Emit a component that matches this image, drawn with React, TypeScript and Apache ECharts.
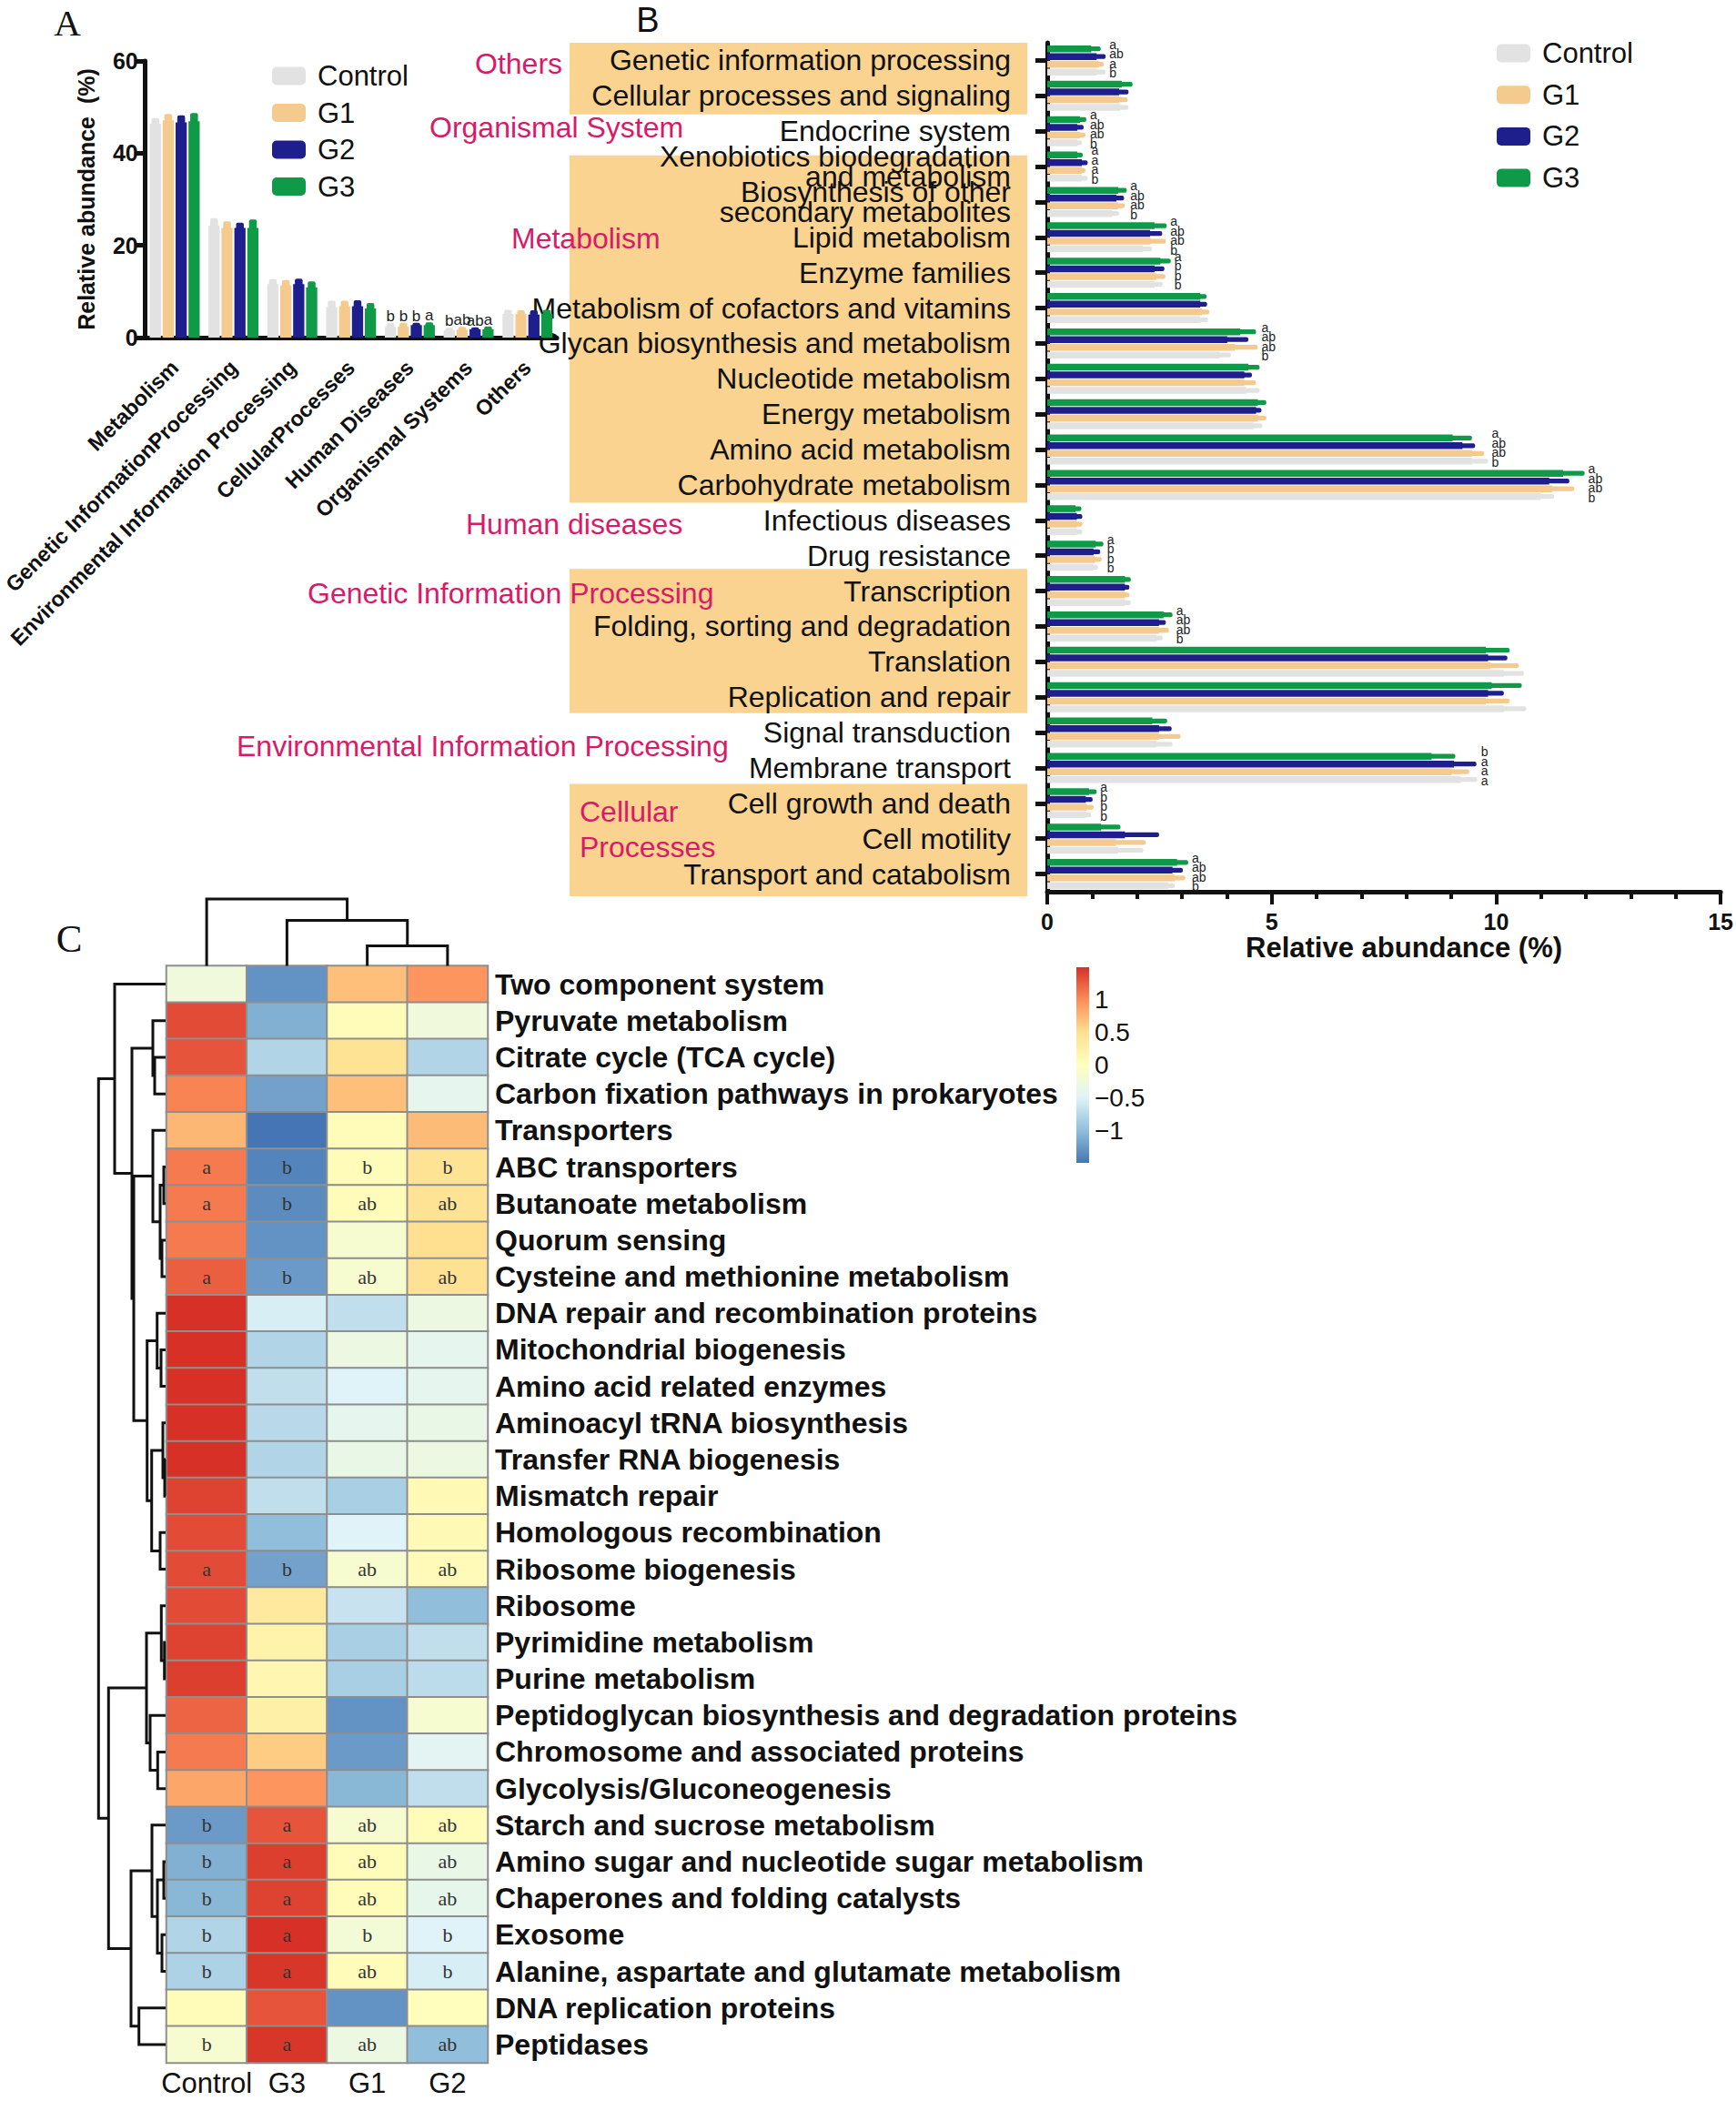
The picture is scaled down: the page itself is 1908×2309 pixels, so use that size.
import React, { useEffect, useRef } from "react";
import * as echarts from "echarts";

const FONT = '"Liberation Sans", Arial, Helvetica, sans-serif';
const SERIF = '"Liberation Serif", "Times New Roman", Times, serif';
const INK = "#111111";
const PINK = "#D81B69";

const groups = ["Control", "G1", "G2", "G3"];
const groupColors = ["#E2E2E2", "#F4CA8F", "#1E1F8C", "#0E9A47"];

// ---------------- Panel A ----------------
const catsA = [
  "Metabolism",
  "Genetic InformationProcessing",
  "Environmental Information Processing",
  "CellularProcesses",
  "Human Diseases",
  "Organismal Systems",
  "Others",
];
const aControl = [46.4, 24.3, 11.6, 6.6, 2.3, 1.6, 5.1];
const aG1 = [47.1, 23.8, 11.3, 6.8, 2.4, 1.7, 5.1];
const aG2 = [46.7, 23.8, 11.6, 6.8, 2.7, 1.8, 5.0];
const aG3 = [46.9, 23.8, 10.9, 6.3, 2.7, 1.8, 5.2];
const aErrControl = [1.2, 1.6, 1.1, 1.4, 0.9, 0.5, 0.9];
const aErrG1 = [1.4, 1.4, 1.2, 1.2, 0.8, 0.6, 0.8];
const aErrG2 = [1.5, 1.1, 1.2, 1.3, 0.5, 0.4, 0.9];
const aErrG3 = [1.8, 1.8, 1.3, 1.2, 0.6, 0.6, 0.8];
const aLetControl = ["", "", "", "", "b", "b", ""];
const aLetG1 = ["", "", "", "", "b", "ab", ""];
const aLetG2 = ["", "", "", "", "b", "ab", ""];
const aLetG3 = ["", "", "", "", "a", "a", ""];

// ---------------- Panel B ----------------
const catsB = [
  "Genetic information processing",
  "Cellular processes and signaling",
  "Endocrine system",
  "Xenobiotics biodegradation\nand metabolism",
  "Biosynthesis of other\nsecondary metabolites",
  "Lipid metabolism",
  "Enzyme families",
  "Metabolism of cofactors and vitamins",
  "Glycan biosynthesis and metabolism",
  "Nucleotide metabolism",
  "Energy metabolism",
  "Amino acid metabolism",
  "Carbohydrate metabolism",
  "Infectious diseases",
  "Drug resistance",
  "Transcription",
  "Folding, sorting and degradation",
  "Translation",
  "Replication and repair",
  "Signal transduction",
  "Membrane transport",
  "Cell growth and death",
  "Cell motility",
  "Transport and catabolism",
];
const bControl = [1.10, 1.62, 0.67, 0.77, 1.45, 2.13, 2.39, 3.41, 3.84, 4.43, 4.60, 9.46, 10.99, 0.66, 1.03, 1.73, 2.44, 10.17, 10.17, 2.44, 9.21, 0.86, 1.58, 2.69];
const bG1 = [1.15, 1.60, 0.73, 0.77, 1.58, 2.30, 2.43, 3.45, 4.18, 4.39, 4.69, 9.46, 11.25, 0.66, 1.06, 1.73, 2.49, 9.87, 9.77, 2.49, 9.01, 0.88, 1.53, 2.84];
const bG2 = [1.10, 1.60, 0.67, 0.77, 1.54, 2.29, 2.39, 3.41, 4.01, 4.39, 4.65, 9.25, 11.18, 0.66, 1.03, 1.73, 2.49, 9.82, 9.82, 2.49, 9.06, 0.86, 1.73, 2.79];
const bG3 = [0.98, 1.66, 0.73, 0.67, 1.58, 2.39, 2.52, 3.41, 4.30, 4.48, 4.69, 9.03, 11.49, 0.63, 1.08, 1.73, 2.59, 9.77, 9.90, 2.34, 8.56, 0.93, 1.20, 2.89];
const bErrControl = [0.20, 0.19, 0.10, 0.13, 0.15, 0.20, 0.18, 0.17, 0.25, 0.30, 0.19, 0.36, 0.30, 0.12, 0.10, 0.13, 0.13, 0.45, 0.50, 0.35, 0.37, 0.12, 0.56, 0.15];
const bErrG1 = [0.11, 0.19, 0.12, 0.08, 0.15, 0.34, 0.20, 0.16, 0.51, 0.26, 0.19, 0.27, 0.49, 0.12, 0.15, 0.10, 0.22, 0.63, 0.53, 0.48, 0.39, 0.15, 0.66, 0.23];
const bErrG2 = [0.20, 0.21, 0.14, 0.13, 0.17, 0.27, 0.22, 0.15, 0.47, 0.17, 0.12, 0.28, 0.45, 0.12, 0.15, 0.10, 0.15, 0.43, 0.35, 0.28, 0.50, 0.15, 0.76, 0.23];
const bErrG3 = [0.21, 0.24, 0.14, 0.12, 0.19, 0.27, 0.23, 0.14, 0.35, 0.25, 0.19, 0.43, 0.48, 0.13, 0.17, 0.13, 0.20, 0.53, 0.67, 0.33, 0.53, 0.17, 0.43, 0.25];
const bLetControl = ["b", "", "b", "b", "b", "b", "b", "", "b", "", "", "b", "b", "", "b", "", "b", "", "", "", "a", "b", "", "b"];
const bLetG1 = ["a", "", "ab", "a", "ab", "ab", "b", "", "ab", "", "", "ab", "ab", "", "b", "", "ab", "", "", "", "a", "b", "", "ab"];
const bLetG2 = ["ab", "", "ab", "a", "ab", "ab", "b", "", "ab", "", "", "ab", "ab", "", "b", "", "ab", "", "", "", "a", "b", "", "ab"];
const bLetG3 = ["a", "", "a", "a", "a", "a", "a", "", "a", "", "", "a", "a", "", "a", "", "a", "", "", "", "b", "a", "", "a"];
// shaded groups: [first category, last category]
const boxRanges = [[0, 1], [3, 12], [15, 18], [21, 23]];
const boxPad = [[0, 1], [7, 0], [-5, -2], [-2, 5]];
const groupLabels = [
  { text: "Others", x: 522, y: 70 },
  { text: "Organismal System", x: 472, y: 140 },
  { text: "Metabolism", x: 562, y: 262 },
  { text: "Human diseases", x: 512, y: 576 },
  { text: "Genetic Information Processing", x: 338, y: 652 },
  { text: "Environmental Information Processing", x: 260, y: 820 },
  { text: "Cellular", x: 637, y: 892 },
  { text: "Processes", x: 637, y: 931 },
];

// ---------------- Panel C ----------------
const colsC = ["Control", "G3", "G1", "G2"];
const rowsC = [
  "Two component system",
  "Pyruvate metabolism",
  "Citrate cycle (TCA cycle)",
  "Carbon fixation pathways in prokaryotes",
  "Transporters",
  "ABC transporters",
  "Butanoate metabolism",
  "Quorum sensing",
  "Cysteine and methionine metabolism",
  "DNA repair and recombination proteins",
  "Mitochondrial biogenesis",
  "Amino acid related enzymes",
  "Aminoacyl tRNA biosynthesis",
  "Transfer RNA biogenesis",
  "Mismatch repair",
  "Homologous recombination",
  "Ribosome biogenesis",
  "Ribosome",
  "Pyrimidine metabolism",
  "Purine metabolism",
  "Peptidoglycan biosynthesis and degradation proteins",
  "Chromosome and associated proteins",
  "Glycolysis/Gluconeogenesis",
  "Starch and sucrose metabolism",
  "Amino sugar and nucleotide sugar metabolism",
  "Chaperones and folding catalysts",
  "Exosome",
  "Alanine, aspartate and glutamate metabolism",
  "DNA replication proteins",
  "Peptidases",
];
const heatValues = [
  [-0.25, -1.3, 0.7, 0.95],
  [1.35, -1.1, 0.05, -0.25],
  [1.3, -0.8, 0.45, -0.8],
  [1.05, -1.2, 0.7, -0.4],
  [0.75, -1.5, 0.05, 0.72],
  [1.1, -1.4, 0.05, 0.45],
  [1.1, -1.35, 0.05, 0.45],
  [1.1, -1.3, -0.15, 0.5],
  [1.25, -1.25, -0.15, 0.48],
  [1.5, -0.55, -0.7, -0.3],
  [1.5, -0.8, -0.3, -0.4],
  [1.5, -0.7, -0.5, -0.4],
  [1.5, -0.75, -0.4, -0.35],
  [1.5, -0.8, -0.35, -0.3],
  [1.4, -0.7, -0.85, 0.1],
  [1.35, -1.0, -0.5, 0.1],
  [1.35, -1.2, -0.15, 0.08],
  [1.35, 0.35, -0.65, -1.0],
  [1.4, 0.2, -0.85, -0.7],
  [1.42, 0.15, -0.85, -0.72],
  [1.22, 0.25, -1.3, -0.15],
  [1.1, 0.62, -1.25, -0.45],
  [0.85, 0.95, -1.05, -0.7],
  [-1.25, 1.3, -0.15, 0.05],
  [-1.1, 1.42, 0.05, -0.35],
  [-1.05, 1.4, 0.05, -0.38],
  [-0.8, 1.5, -0.2, -0.5],
  [-0.82, 1.47, 0.07, -0.55],
  [0.05, 1.3, -1.3, 0.02],
  [-0.15, 1.47, -0.3, -1.0],
];
const heatLetters = [
  ["", "", "", ""], ["", "", "", ""], ["", "", "", ""], ["", "", "", ""], ["", "", "", ""],
  ["a", "b", "b", "b"],
  ["a", "b", "ab", "ab"],
  ["", "", "", ""],
  ["a", "b", "ab", "ab"],
  ["", "", "", ""], ["", "", "", ""], ["", "", "", ""], ["", "", "", ""], ["", "", "", ""],
  ["", "", "", ""], ["", "", "", ""],
  ["a", "b", "ab", "ab"],
  ["", "", "", ""], ["", "", "", ""], ["", "", "", ""], ["", "", "", ""], ["", "", "", ""], ["", "", "", ""],
  ["b", "a", "ab", "ab"],
  ["b", "a", "ab", "ab"],
  ["b", "a", "ab", "ab"],
  ["b", "a", "b", "b"],
  ["b", "a", "ab", "b"],
  ["", "", "", ""],
  ["b", "a", "ab", "ab"],
];
const heatPalette = ["#4575B4", "#91BFDB", "#E0F3F8", "#FFFFBF", "#FEE090", "#FC8D59", "#D73027"];
const colorbarTicks = [-1, -0.5, 0, 0.5, 1];
// dendrograms (hclust style: negative = leaf -(index+1), positive = merge number)
const colMerges = [
  [-3, -4, 22],
  [-2, 1, 50],
  [-1, 2, 73.5],
];
const rowMerges = [
  [-3, -4, 12], [-2, 1, 14], [-6, -7, 2], [-8, -9, 4], [3, 4, 6], [-5, 5, 14],
  [-11, -12, 5], [-10, 7, 9.3], [-14, -15, 1], [-13, 9, 3], [-16, -17, 6], [10, 11, 15.3],
  [8, 12, 20.3], [6, 13, 35], [2, 14, 37], [-1, 15, 56],
  [-19, -20, 1.3], [-18, 17, 4.7], [-22, -23, 8.7], [-21, 19, 17], [18, 20, 21],
  [-25, -26, 2], [-27, -28, 4], [22, 23, 9], [-24, 24, 15], [-29, -30, 29.3], [25, 26, 38],
  [21, 27, 62.7], [16, 28, 73.7],
];

function layoutTree(merges: number[][]) {
  const pos: number[] = [];
  const ht: number[] = [];
  merges.forEach(([a, b, h], k) => {
    const pa = a < 0 ? -a - 1 : pos[a - 1];
    const pb = b < 0 ? -b - 1 : pos[b - 1];
    pos[k] = (pa + pb) / 2;
    ht[k] = h;
  });
  return { pos, ht };
}
function nodeInfo(c: number, L: { pos: number[]; ht: number[] }) {
  return c < 0 ? [-c - 1, 0] : [L.pos[c - 1], L.ht[c - 1]];
}

function buildOption() {
  const aBody = [aControl, aG1, aG2, aG3];
  const aErr = [aErrControl, aErrG1, aErrG2, aErrG3];
  const aLet = [aLetControl, aLetG1, aLetG2, aLetG3];
  const bBody = [bControl, bG1, bG2, bG3];
  const bErr = [bErrControl, bErrG1, bErrG2, bErrG3];
  const bLet = [bLetControl, bLetG1, bLetG2, bLetG3];

  const seriesA = groups.map((g, gi) => ({
    type: "custom",
    name: g,
    xAxisIndex: 0,
    yAxisIndex: 0,
    clip: false,
    silent: true,
    itemStyle: { color: groupColors[gi] },
    encode: { x: 0, y: 1 },
    data: catsA.map((_, i) => [i, aBody[gi][i], aErr[gi][i]]),
    renderItem: (params: any, api: any) => {
      const ci = api.value(0);
      const v = api.value(1);
      const e = api.value(2);
      const base = api.coord([ci, 0]);
      const top = api.coord([ci, v]);
      const tip = api.coord([ci, v + e]);
      const step = 14.2, w = 12.3, tw = 8.5;
      const cx = base[0] + (gi - 1.5) * step;
      const col = groupColors[gi];
      const children: any[] = [
        { type: "rect", shape: { x: cx - w / 2, y: top[1], width: w, height: base[1] - top[1] }, style: { fill: col } },
        { type: "rect", shape: { x: cx - tw / 2, y: tip[1], width: tw, height: top[1] - tip[1] + 1, r: [2, 2, 0, 0] }, style: { fill: col } },
      ];
      const L = aLet[gi][params.dataIndex];
      if (L) {
        children.push({
          type: "text",
          x: cx,
          y: tip[1] + 1,
          style: { text: L, fill: "#222", fontSize: 17, fontFamily: FONT, textAlign: "center", textVerticalAlign: "bottom" },
        });
      }
      return { type: "group", children };
    },
  }));

  const boxSeries = {
    type: "custom",
    xAxisIndex: 1,
    yAxisIndex: 1,
    z: -1,
    clip: false,
    silent: true,
    data: boxRanges.map((r) => [0, r[0], r[1]]),
    renderItem: (params: any, api: any) => {
      const s = api.value(1);
      const e = api.value(2);
      const band = api.size([0, 1])[1];
      const p1 = api.coord([0, s]);
      const p2 = api.coord([0, e]);
      const pad = boxPad[params.dataIndex];
      const top = Math.min(p1[1], p2[1]) - band / 2 + pad[0];
      const bottom = Math.max(p1[1], p2[1]) + band / 2 + pad[1];
      const left = p1[0] - 525;
      const right = p1[0] - 22;
      return { type: "rect", shape: { x: left, y: top, width: right - left, height: bottom - top }, style: { fill: "#F9D38F" } };
    },
  };

  const seriesB = groups.map((g, gi) => ({
    type: "custom",
    name: g,
    xAxisIndex: 1,
    yAxisIndex: 1,
    clip: false,
    silent: true,
    itemStyle: { color: groupColors[gi] },
    encode: { x: 0, y: 1 },
    data: catsB.map((_, i) => [bBody[gi][i], i, bErr[gi][i]]),
    renderItem: (params: any, api: any) => {
      const v = api.value(0);
      const ci = api.value(1);
      const e = api.value(2);
      const base = api.coord([0, ci]);
      const end = api.coord([v, ci]);
      const tip = api.coord([v + e, ci]);
      const step = 8.5, h = 7.6, th = 5.2;
      const cy = base[1] + (1.5 - gi) * step;
      const col = groupColors[gi];
      const children: any[] = [
        { type: "rect", shape: { x: base[0], y: cy - h / 2, width: end[0] - base[0], height: h }, style: { fill: col } },
        { type: "rect", shape: { x: end[0] - 1, y: cy - th / 2, width: tip[0] - end[0] + 1, height: th, r: [0, 2, 2, 0] }, style: { fill: col } },
      ];
      const L = bLet[gi][params.dataIndex];
      if (L) {
        let maxTip = 0;
        for (let k = 0; k < 4; k++) maxTip = Math.max(maxTip, bBody[k][ci] + bErr[k][ci]);
        const lx = api.coord([maxTip, ci])[0] + 4;
        const ly = base[1] - 2 + (1.5 - gi) * 10.5;
        children.push({
          type: "text",
          x: lx,
          y: ly,
          style: { text: L, fill: "#222", fontSize: 14, fontFamily: FONT, textAlign: "left", textVerticalAlign: "middle" },
        });
      }
      return { type: "group", children };
    },
  }));

  const heatData: number[][] = [];
  rowsC.forEach((_, r) => colsC.forEach((_, c) => heatData.push([c, r, heatValues[r][c]])));
  const heatSeries = {
    type: "heatmap",
    xAxisIndex: 2,
    yAxisIndex: 2,
    data: heatData,
    itemStyle: { borderColor: "#8E8E8E", borderWidth: 2 },
    emphasis: { disabled: true },
    label: {
      show: true,
      formatter: (p: any) => heatLetters[p.value[1]][p.value[0]],
      fontFamily: SERIF,
      fontSize: 22,
      color: "#333",
    },
  };

  const colL = layoutTree(colMerges);
  const colTree = {
    type: "custom",
    xAxisIndex: 3,
    yAxisIndex: 3,
    clip: false,
    silent: true,
    data: colMerges.map((_, k) => [k, 0]),
    renderItem: (params: any, api: any) => {
      const [a, b, h] = colMerges[params.dataIndex];
      const [pa, ha] = nodeInfo(a, colL);
      const [pb, hb] = nodeInfo(b, colL);
      const pts = [api.coord([pa, ha]), api.coord([pa, h]), api.coord([pb, h]), api.coord([pb, hb])];
      return { type: "polyline", shape: { points: pts }, style: { stroke: INK, lineWidth: 3, fill: "none" } };
    },
  };

  const rowL = layoutTree(rowMerges);
  const rowTree = {
    type: "custom",
    xAxisIndex: 4,
    yAxisIndex: 4,
    clip: false,
    silent: true,
    data: rowMerges.map((_, k) => [0, k]),
    renderItem: (params: any, api: any) => {
      const [a, b, h] = rowMerges[params.dataIndex];
      const [pa, ha] = nodeInfo(a, rowL);
      const [pb, hb] = nodeInfo(b, rowL);
      const pts = [api.coord([ha, pa]), api.coord([h, pa]), api.coord([h, pb]), api.coord([hb, pb])];
      return { type: "polyline", shape: { points: pts }, style: { stroke: INK, lineWidth: 3, fill: "none" } };
    },
  };

  const colorbar = {
    type: "custom",
    xAxisIndex: 5,
    yAxisIndex: 5,
    clip: false,
    silent: true,
    data: [[0, 0]],
    renderItem: (params: any, api: any) => {
      const p1 = api.coord([0, 1.5]);
      const p2 = api.coord([1, -1.5]);
      const stops = heatPalette
        .slice()
        .reverse()
        .map((c, i, arr) => ({ offset: i / (arr.length - 1), color: c }));
      return {
        type: "rect",
        shape: { x: p1[0], y: p1[1], width: p2[0] - p1[0], height: p2[1] - p1[1] },
        style: { fill: new echarts.graphic.LinearGradient(0, 0, 0, 1, stops) },
      };
    },
  };

  const axisLineStyle = { color: INK, width: 5 };
  const legendBase = {
    orient: "vertical",
    icon: "roundRect",
    itemWidth: 37,
    itemHeight: 20,
    selectedMode: false,
    data: groups.map((g, i) => ({ name: g, itemStyle: { color: groupColors[i] } })),
    textStyle: { fontSize: 31, fontFamily: FONT, color: INK, lineHeight: 30, padding: [0, 0, 0, 8] },
  };

  return {
    animation: false,
    backgroundColor: "#ffffff",
    textStyle: { fontFamily: FONT },
    legend: [
      { ...legendBase, left: 294, top: 63, itemGap: 9.5 },
      { ...legendBase, left: 1640, top: 38, itemGap: 14.7 },
    ],
    grid: [
      { left: 149, top: 67, width: 463, height: 304 },
      { left: 1151, top: 47, width: 741, height: 933 },
      { left: 183, top: 1061.5, width: 353, height: 1205.5 },
      { left: 183, top: 980, width: 353, height: 81.5 },
      { left: 100, top: 1061.5, width: 82, height: 1205.5 },
      { left: 1183, top: 1063, width: 14, height: 215 },
    ],
    xAxis: [
      {
        gridIndex: 0,
        type: "category",
        data: catsA,
        axisLine: { lineStyle: axisLineStyle },
        axisTick: { alignWithLabel: true, length: 14, lineStyle: { color: INK, width: 6 } },
        axisLabel: { rotate: 45, interval: 0, fontSize: 23.5, fontWeight: "bold", fontFamily: FONT, color: INK, margin: 29 },
      },
      {
        gridIndex: 1,
        type: "value",
        min: 0,
        max: 15,
        interval: 5,
        axisLine: { show: true, lineStyle: axisLineStyle },
        axisTick: { show: true, length: 14, lineStyle: { color: INK, width: 4 } },
        minorTick: { show: true, splitNumber: 5, length: 8, lineStyle: { color: INK, width: 4 } },
        splitLine: { show: false },
        axisLabel: { fontSize: 25, fontWeight: "bold", fontFamily: FONT, color: INK, margin: 20 },
        name: "Relative abundance (%)",
        nameLocation: "middle",
        nameGap: 36,
        nameTextStyle: { fontSize: 31, fontWeight: "bold", fontFamily: FONT, color: INK, padding: [0, 0, 0, 44] },
      },
      {
        gridIndex: 2,
        type: "category",
        data: colsC,
        position: "bottom",
        axisLine: { show: false },
        axisTick: { show: false },
        axisLabel: { fontSize: 31, fontFamily: FONT, color: INK, margin: 7, interval: 0 },
      },
      { gridIndex: 3, type: "value", min: -0.5, max: 3.5, show: false },
      { gridIndex: 4, type: "value", min: 0, max: 82, inverse: true, show: false },
      { gridIndex: 5, type: "value", min: 0, max: 1, show: false },
    ],
    yAxis: [
      {
        gridIndex: 0,
        type: "value",
        min: 0,
        max: 60,
        interval: 20,
        axisLine: { show: true, lineStyle: axisLineStyle },
        axisTick: { show: true, length: 10, lineStyle: { color: INK, width: 5 } },
        splitLine: { show: false },
        axisLabel: { fontSize: 25, fontWeight: "bold", fontFamily: FONT, color: INK, margin: 8 },
        name: "Relative abundance  (%)",
        nameLocation: "middle",
        nameGap: 52,
        nameTextStyle: { fontSize: 25, fontWeight: "bold", fontFamily: FONT, color: INK },
      },
      {
        gridIndex: 1,
        type: "category",
        data: catsB,
        inverse: true,
        axisLine: { show: true, lineStyle: axisLineStyle },
        axisTick: { show: true, alignWithLabel: true, length: 13, lineStyle: { color: INK, width: 5 } },
        axisLabel: { fontSize: 32, fontFamily: FONT, color: INK, margin: 40, lineHeight: 22, interval: 0 },
      },
      {
        gridIndex: 2,
        type: "category",
        data: rowsC,
        inverse: true,
        position: "right",
        axisLine: { show: false },
        axisTick: { show: false },
        axisLabel: { fontSize: 32, fontWeight: "bold", fontFamily: FONT, color: INK, margin: 8, interval: 0 },
      },
      { gridIndex: 3, type: "value", min: 0, max: 81.5, show: false },
      { gridIndex: 4, type: "value", min: -0.5, max: 29.5, inverse: true, show: false },
      {
        gridIndex: 5,
        type: "value",
        min: -1.5,
        max: 1.5,
        interval: 0.5,
        position: "right",
        axisLine: { show: false },
        axisTick: { show: false },
        splitLine: { show: false },
        axisLabel: {
          margin: 6,
          fontSize: 28,
          fontFamily: FONT,
          color: INK,
          formatter: (v: number) => {
            const t = colorbarTicks.find((c) => Math.abs(c - v) < 1e-6);
            if (t === undefined) return "";
            return t < 0 ? "\u2212" + Math.abs(t) : String(t);
          },
        },
      },
    ],
    visualMap: {
      type: "continuous",
      show: false,
      min: -1.5,
      max: 1.5,
      dimension: 2,
      seriesIndex: 9,
      inRange: { color: heatPalette },
    },
    graphic: [
      { type: "text", x: 74, y: 25, style: { text: "A", fontSize: 41, fontFamily: SERIF, fill: INK, textAlign: "center", textVerticalAlign: "middle" } },
      { type: "text", x: 712, y: 22, style: { text: "B", fontSize: 38, fontFamily: FONT, fill: INK, textAlign: "center", textVerticalAlign: "middle" } },
      { type: "text", x: 76, y: 1031, style: { text: "C", fontSize: 43, fontFamily: SERIF, fill: INK, textAlign: "center", textVerticalAlign: "middle" } },
      ...groupLabels.map((g) => ({
        type: "text",
        x: g.x,
        y: g.y,
        z: 10,
        style: { text: g.text, fontSize: 32, fontFamily: FONT, fill: PINK, textAlign: "left", textVerticalAlign: "middle" },
      })),
    ],
    series: [...seriesA, boxSeries, ...seriesB, heatSeries, colTree, rowTree, colorbar],
  };
}

export default function App() {
  const ref = useRef<HTMLDivElement>(null);
  useEffect(() => {
    if (!ref.current) return;
    const chart = echarts.init(ref.current, null, { renderer: "svg" });
    chart.setOption(buildOption() as any);
    return () => chart.dispose();
  }, []);
  return (
    <div
      ref={ref}
      style={{ position: "absolute", left: 0, top: 0, width: 1908, height: 2309, background: "#ffffff" }}
    />
  );
}
